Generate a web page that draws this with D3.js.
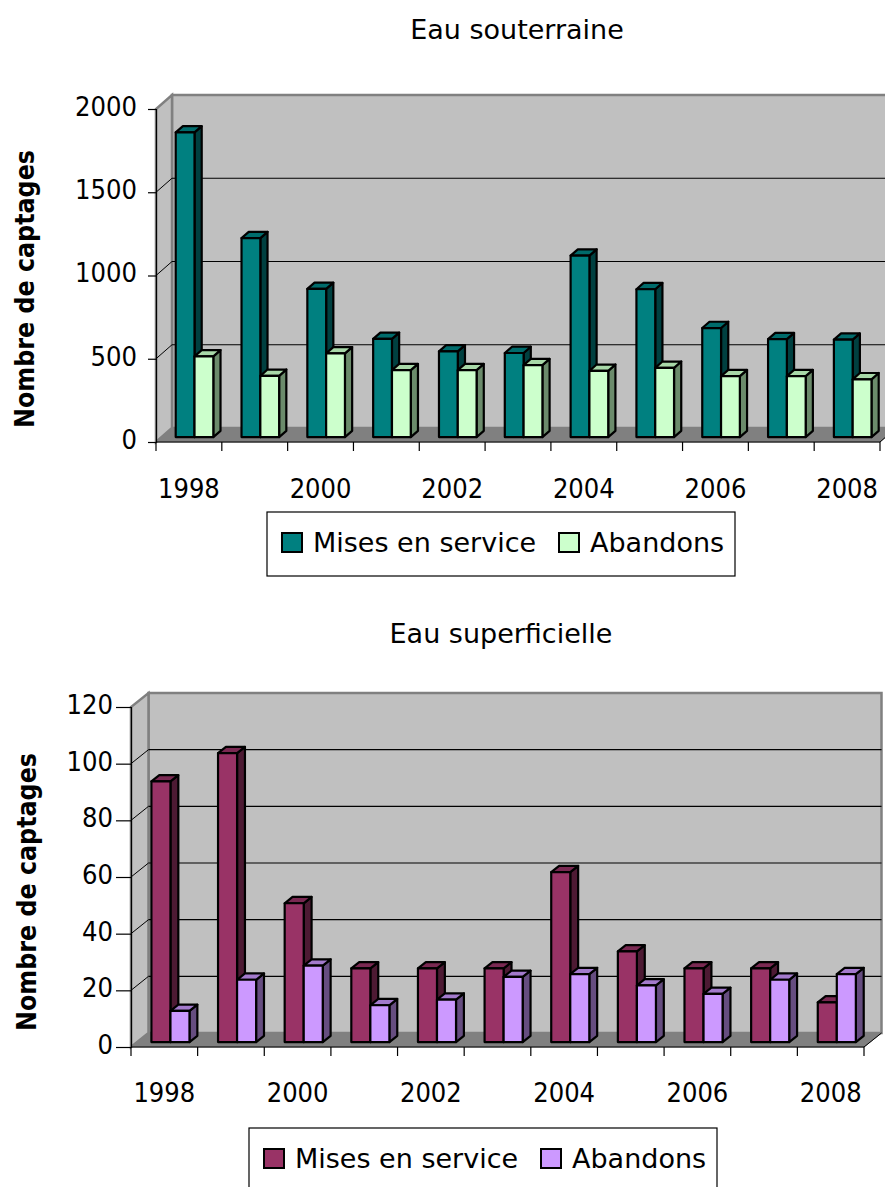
<!DOCTYPE html>
<html>
<head>
<meta charset="utf-8">
<script src="https://cdn.jsdelivr.net/npm/d3@7"></script>
<style>
  html, body { margin: 0; padding: 0; background: #ffffff; }
  svg { display: block; }
  text { font-family: "DejaVu Sans", sans-serif; fill: #000; }
  .cat text { font-family: "DejaVu Sans Condensed", "DejaVu Sans", sans-serif; font-stretch: condensed; }
</style>
</head>
<body>
<svg id="chart" width="885" height="1187"></svg>
<script>
// Years on the category axis
const years = ["1998", "1999", "2000", "2001", "2002", "2003", "2004", "2005", "2006", "2007", "2008"];

// Groundwater intakes (Eau souterraine)
const souterraineMises = [1830, 1195, 890, 590, 515, 505, 1090, 888, 655, 588, 585];
const souterraineAbandons = [485, 368, 503, 402, 402, 432, 398, 416, 366, 366, 347];

// Surface water intakes (Eau superficielle)
const superficielleMises = [92, 102, 49, 26, 26, 26, 60, 32, 26, 26, 14];
const superficielleAbandons = [11, 22, 27, 13, 15, 23, 24, 20, 17, 22, 24];

// Value-axis tick values
const souterraineTicks = [0, 500, 1000, 1500, 2000];
const superficielleTicks = [0, 20, 40, 60, 80, 100, 120];

const seriesNames = ["Mises en service", "Abandons"];

const svg = d3.select("#chart");

// Draws one pseudo-3D clustered column chart
function drawChart(cfg) {
  const g = svg.append("g");
  const x = d3.scaleBand().domain(years).range([cfg.x0, cfg.x1]);
  const max = cfg.ticks[cfg.ticks.length - 1];
  const y = d3.scaleLinear().domain([0, max]).range([cfg.yZero, cfg.yTop]);
  const dx = cfg.dx, dy = cfg.dy;
  const pts = p => p.map(q => q.join(",")).join(" ");

  // back wall
  g.append("polygon")
    .attr("points", pts([[cfg.x0 + dx, y(max) + dy], [cfg.x1 + dx, y(max) + dy], [cfg.x1 + dx, y(0) + dy], [cfg.x0 + dx, y(0) + dy]]))
    .attr("fill", "#c0c0c0").attr("stroke", "#808080").attr("stroke-width", 2.5);
  // side wall
  g.append("polygon")
    .attr("points", pts([[cfg.x0, y(0)], [cfg.x0, y(max)], [cfg.x0 + dx, y(max) + dy], [cfg.x0 + dx, y(0) + dy]]))
    .attr("fill", "#c0c0c0").attr("stroke", "#808080").attr("stroke-width", 2.5);
  // floor
  g.append("polygon")
    .attr("points", pts([[cfg.x0, y(0)], [cfg.x1, y(0)], [cfg.x1 + dx, y(0) + dy], [cfg.x0 + dx, y(0) + dy]]))
    .attr("fill", "#808080").attr("stroke", "#808080").attr("stroke-width", 1);

  // gridlines on the back wall and their slanted continuations on the side wall
  const inner = cfg.ticks.filter(v => v > 0 && v < max);
  g.selectAll("line.grid").data(inner).join("line")
    .attr("x1", cfg.x0 + dx).attr("x2", cfg.x1 + dx)
    .attr("y1", v => y(v) + dy).attr("y2", v => y(v) + dy)
    .attr("stroke", "#000").attr("stroke-width", 1.2);
  g.selectAll("line.slant").data(inner).join("line")
    .attr("x1", cfg.x0).attr("x2", cfg.x0 + dx)
    .attr("y1", v => y(v)).attr("y2", v => y(v) + dy)
    .attr("stroke", "#000").attr("stroke-width", 1);

  // columns
  const bw = x.bandwidth() / 3.5;
  const f = 0.35, gd = 0.45;
  const bdx = gd * dx, bdy = gd * dy;
  const rows = years.map((yr, i) => ({ yr, vals: [cfg.mises[i], cfg.abandons[i]] }));
  rows.forEach(r => {
    r.vals.forEach((v, s) => {
      const c = cfg.colors[s];
      const fx = x(r.yr) + 0.75 * bw + s * bw + f * dx;
      const base = y(0) + f * dy;
      const top = y(v) + f * dy;
      const bar = g.append("g").attr("stroke", "#000").attr("stroke-width", 2.2).attr("stroke-linejoin", "round");
      bar.append("polygon")
        .attr("points", pts([[fx + bw, base], [fx + bw, top], [fx + bw + bdx, top + bdy], [fx + bw + bdx, base + bdy]]))
        .attr("fill", c.side);
      bar.append("polygon")
        .attr("points", pts([[fx, top], [fx + bw, top], [fx + bw + bdx, top + bdy], [fx + bdx, top + bdy]]))
        .attr("fill", c.top);
      bar.append("rect")
        .attr("x", fx).attr("y", top).attr("width", bw).attr("height", base - top)
        .attr("fill", c.front);
    });
  });

  // value axis
  const yAxis = g.append("g").attr("transform", `translate(${cfg.x0},0)`)
    .call(d3.axisLeft(y).tickValues(cfg.ticks).tickSize(cfg.yTickLen).tickPadding(cfg.yPad).tickFormat(d3.format("d")));
  yAxis.select(".domain").attr("stroke", "#000").attr("stroke-width", 1.2);
  yAxis.selectAll(".tick line").attr("stroke", "#000").attr("stroke-width", 1.2);
  yAxis.selectAll("text").attr("font-size", 27).attr("font-family", "DejaVu Sans").attr("dy", "0.24em")
    .attr("textLength", d => String(d).length * 15.5).attr("lengthAdjust", "spacingAndGlyphs");

  // category axis
  const xAxis = g.append("g").attr("class", "cat").attr("transform", `translate(0,${cfg.yZero})`)
    .call(d3.axisBottom(x).tickSize(0).tickFormat((d, i) => (i % 2 === 0 ? d : "")));
  xAxis.select(".domain").remove();
  xAxis.attr("font-family", null);
  xAxis.selectAll("text").attr("font-size", 27)
    .attr("y", cfg.xLabelY).attr("dy", 0);
  const bounds = years.map(d => x(d)).concat([cfg.x1]);
  xAxis.append("line").attr("x1", cfg.x0).attr("x2", cfg.x1).attr("y1", 0).attr("y2", 0)
    .attr("stroke", "#000").attr("stroke-width", 1.2);
  xAxis.selectAll("line.bound").data(bounds).join("line")
    .attr("x1", d => d).attr("x2", d => d).attr("y1", 0).attr("y2", 9)
    .attr("stroke", "#000").attr("stroke-width", 1.2);
  // right end of the floor
  g.append("line")
    .attr("x1", cfg.x1).attr("y1", y(0)).attr("x2", cfg.x1 + dx).attr("y2", y(0) + dy)
    .attr("stroke", "#000").attr("stroke-width", 1);

  // title
  g.append("text").attr("x", cfg.titleX).attr("y", cfg.titleY)
    .attr("text-anchor", "middle").attr("font-size", 27).text(cfg.title);

  // value-axis title
  g.append("text")
    .attr("transform", `translate(${cfg.yTitleX},${cfg.yTitleY}) rotate(-90)`)
    .attr("text-anchor", "middle").attr("font-size", 26).attr("font-weight", "bold")
    .attr("textLength", 278).attr("lengthAdjust", "spacingAndGlyphs")
    .text("Nombre de captages");

  // legend
  const L = cfg.legend;
  const lg = g.append("g").attr("transform", `translate(${L.x},${L.y})`);
  lg.append("rect").attr("x", 0).attr("y", 0).attr("width", 468).attr("height", L.h)
    .attr("fill", "#fff").attr("stroke", "#000").attr("stroke-width", 1.2);
  const items = [{ sx: 15, tx: 46 }, { sx: 292, tx: 323 }];
  items.forEach((it, s) => {
    lg.append("rect").attr("x", it.sx).attr("y", 21).attr("width", 20).attr("height", 19)
      .attr("fill", cfg.colors[s].front).attr("stroke", "#000").attr("stroke-width", 2);
    lg.append("text").attr("x", it.tx).attr("y", 40).attr("font-size", 27).text(seriesNames[s]);
  });
}

drawChart({
  title: "Eau souterraine", titleX: 517, titleY: 39,
  x0: 156, x1: 880, yZero: 442, yTop: 109, dx: 16, dy: -14,
  ticks: souterraineTicks, mises: souterraineMises, abandons: souterraineAbandons,
  yTickLen: 8, yPad: 11, xLabelY: 56,
  yTitleX: 34, yTitleY: 289,
  colors: [
    { front: "#008080", side: "#004040", top: "#006b6b" },
    { front: "#ccffcc", side: "#6b8b6b", top: "#a8d8a8" }
  ],
  legend: { x: 267, y: 512, h: 64 }
});

drawChart({
  title: "Eau superficielle", titleX: 501, titleY: 643,
  x0: 131, x1: 864, yZero: 1047, yTop: 707, dx: 17.5, dy: -14,
  ticks: superficielleTicks, mises: superficielleMises, abandons: superficielleAbandons,
  yTickLen: 15, yPad: 3, xLabelY: 55,
  yTitleX: 36, yTitleY: 892,
  colors: [
    { front: "#993366", side: "#4d1a33", top: "#7a2952" },
    { front: "#cc99ff", side: "#664d80", top: "#a37acc" }
  ],
  legend: { x: 249, y: 1128, h: 64 }
});
</script>
</body>
</html>
